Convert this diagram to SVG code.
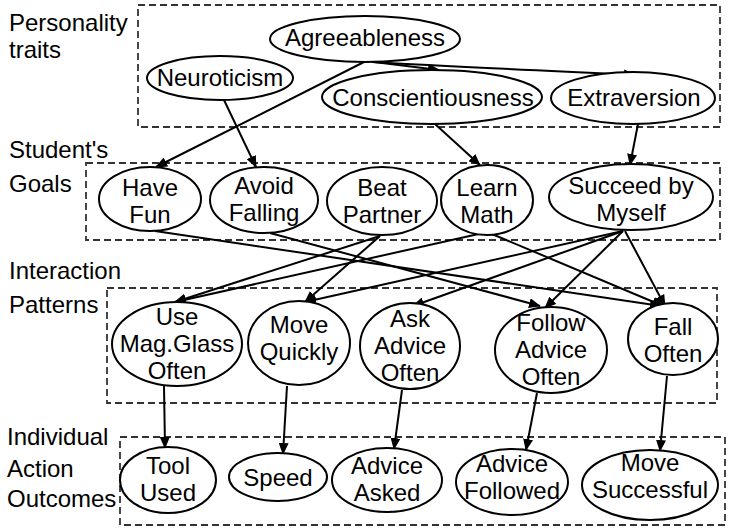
<svg xmlns="http://www.w3.org/2000/svg" width="733" height="531" viewBox="0 0 733 531">
<defs>
<style>
text{font-family:"Liberation Sans",Arial,sans-serif;font-size:24px;fill:#000}
.n text{text-anchor:middle}
.n ellipse{fill:#fff;stroke:#000;stroke-width:2}
.box{fill:none;stroke:#333;stroke-width:1.8;stroke-dasharray:7,4}
.e path{fill:none;stroke:#000;stroke-width:2;marker-end:url(#ah)}
</style>
<marker id="ah" markerUnits="userSpaceOnUse" markerWidth="12" markerHeight="10" refX="11" refY="5" orient="auto">
<path d="M0,0 L12,5 L0,10 z" fill="#000"/>
</marker>
</defs>
<rect width="733" height="531" fill="#fff"/>
<g id="layers">
<rect class="box" x="138" y="5" width="582" height="122"/>
<rect class="box" x="86" y="163" width="634" height="77"/>
<rect class="box" x="107" y="288" width="610" height="115"/>
<rect class="box" x="120" y="437" width="605" height="88"/>
<text x="9" y="31">Personality</text>
<text x="9" y="58">traits</text>
<text x="9" y="158">Student's</text>
<text x="9" y="192">Goals</text>
<text x="9" y="279">Interaction</text>
<text x="9" y="313">Patterns</text>
<text x="7" y="445">Individual</text>
<text x="7" y="477">Action</text>
<text x="7" y="507">Outcomes</text>
</g>
<g id="connectors" class="e">
<path d="M374,62 L439,70"/>
<path d="M372,62 Q440,66 635,75"/>
<path d="M364,62 L156,167"/>
<path d="M224,100 L256,167"/>
<path d="M435,124 L480,165"/>
<path d="M638,124 L630,165"/>
<path d="M155,231 L661,306"/>
<path d="M270,233 L540,306"/>
<path d="M380,236 L175,302"/>
<path d="M380,236 L305,302"/>
<path d="M483,233 L175,302"/>
<path d="M492,234 L663,306"/>
<path d="M623,231 L305,302"/>
<path d="M623,231 L413,306"/>
<path d="M623,231 L545,308"/>
<path d="M625,231 L665,306"/>
<path d="M164,386 L165,448"/>
<path d="M287,386 L283,454"/>
<path d="M402,390 L394,449"/>
<path d="M537,393 L526,450"/>
<path d="M667,376 L660,451"/>
</g>
<g id="agreeableness" class="n"><ellipse cx="365" cy="39" rx="95" ry="23"/><text x="365" y="46">Agreeableness</text></g>
<g id="neuroticism" class="n"><ellipse cx="220" cy="78" rx="73" ry="22"/><text x="220" y="86">Neuroticism</text></g>
<g id="conscientiousness" class="n"><ellipse cx="432" cy="97" rx="110" ry="27"/><text x="433" y="106">Conscientiousness</text></g>
<g id="extraversion" class="n"><ellipse cx="633" cy="98" rx="82" ry="26"/><text x="634" y="106">Extraversion</text></g>

<g id="have-fun" class="n"><ellipse cx="150" cy="199" rx="51" ry="32"/><text x="150" y="196">Have</text><text x="150" y="223">Fun</text></g>
<g id="avoid-falling" class="n"><ellipse cx="264" cy="200" rx="54" ry="33"/><text x="264" y="194">Avoid</text><text x="264" y="221">Falling</text></g>
<g id="beat-partner" class="n"><ellipse cx="382" cy="201" rx="55" ry="34"/><text x="382" y="196">Beat</text><text x="382" y="223">Partner</text></g>
<g id="learn-math" class="n"><ellipse cx="487" cy="200" rx="46" ry="35"/><text x="487" y="196">Learn</text><text x="487" y="223">Math</text></g>
<g id="succeed-by-myself" class="n"><ellipse cx="631" cy="197" rx="82" ry="33"/><text x="631" y="194">Succeed by</text><text x="631" y="221">Myself</text></g>

<g id="use-mag-glass" class="n"><ellipse cx="177" cy="344" rx="65" ry="42"/><text x="177" y="325">Use</text><text x="177" y="352">Mag.Glass</text><text x="177" y="379">Often</text></g>
<g id="move-quickly" class="n"><ellipse cx="299" cy="343" rx="51" ry="42"/><text x="299" y="333">Move</text><text x="299" y="360">Quickly</text></g>
<g id="ask-advice" class="n"><ellipse cx="410" cy="346" rx="50" ry="43"/><text x="410" y="327">Ask</text><text x="410" y="354">Advice</text><text x="410" y="381">Often</text></g>
<g id="follow-advice" class="n"><ellipse cx="551" cy="350" rx="56" ry="43"/><text x="551" y="331">Follow</text><text x="551" y="358">Advice</text><text x="551" y="385">Often</text></g>
<g id="fall-often" class="n"><ellipse cx="673" cy="339" rx="45" ry="36"/><text x="673" y="335">Fall</text><text x="673" y="362">Often</text></g>

<g id="tool-used" class="n"><ellipse cx="168" cy="480" rx="48" ry="33"/><text x="168" y="474">Tool</text><text x="168" y="501">Used</text></g>
<g id="speed" class="n"><ellipse cx="278" cy="477" rx="49" ry="24"/><text x="278" y="486">Speed</text></g>
<g id="advice-asked" class="n"><ellipse cx="387" cy="480" rx="55" ry="32"/><text x="387" y="474">Advice</text><text x="387" y="501">Asked</text></g>
<g id="advice-followed" class="n"><ellipse cx="512" cy="482" rx="56" ry="33"/><text x="512" y="472">Advice</text><text x="512" y="499">Followed</text></g>
<g id="move-successful" class="n"><ellipse cx="650" cy="485" rx="68" ry="35"/><text x="650" y="471">Move</text><text x="650" y="498">Successful</text></g>
</svg>
